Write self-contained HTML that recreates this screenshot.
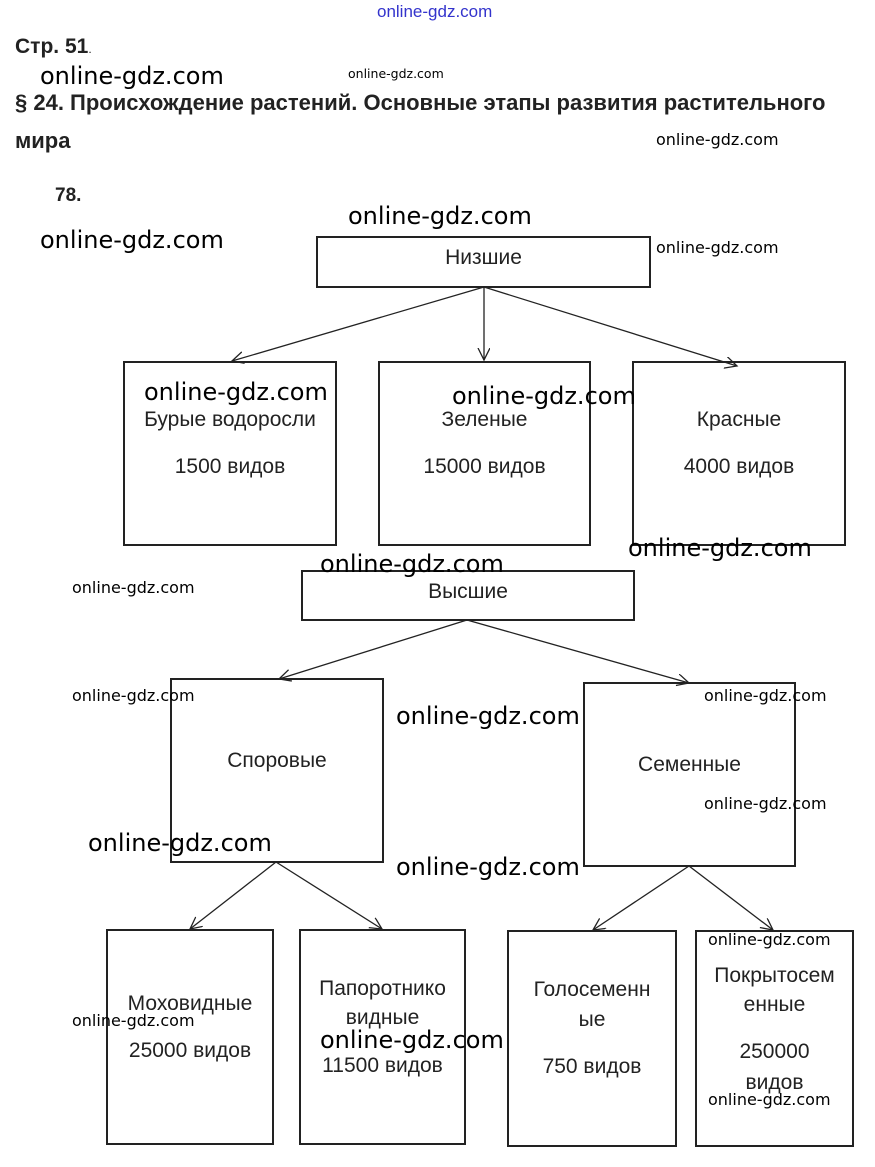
<!DOCTYPE html>
<html><head><meta charset="utf-8"><style>
body{margin:0;width:875px;height:1167px;background:#fff;position:relative;overflow:hidden;font-family:"Liberation Sans","DejaVu Sans",sans-serif;color:#222}
.t{position:absolute;white-space:nowrap;line-height:1}
.b{font-weight:bold;font-size:21px;color:#222}
.w{position:absolute;white-space:nowrap;line-height:1;color:#000;font-family:"DejaVu Sans","Liberation Sans",sans-serif}
.L{font-size:24px}.S{font-size:16px}.X{font-size:12.5px}
.c{position:absolute;text-align:center;font-size:21px;line-height:1;color:#222}
</style></head><body>
<div class="t" style="left:377px;top:3px;font-size:17px;color:#3333cc">online-gdz.com</div>
<div class="t b" style="left:15px;top:36px">Стр. 51<span style="font-weight:normal;font-size:12px">.</span></div>
<div class="w L" style="left:40px;top:64px">online-gdz.com</div>
<div class="w X" style="left:348px;top:68px">online-gdz.com</div>
<div class="t b" style="left:15px;top:92px;font-size:22px">§ 24. Происхождение растений. Основные этапы развития растительного</div>
<div class="t b" style="left:15px;top:130px;font-size:22px">мира</div>
<div class="w S" style="left:656px;top:132px">online-gdz.com</div>
<div class="t b" style="left:55px;top:186px;font-size:19px">78.</div>
<div class="w L" style="left:348px;top:204px">online-gdz.com</div>
<div class="w L" style="left:40px;top:228px">online-gdz.com</div>
<div class="w S" style="left:656px;top:240px">online-gdz.com</div>

<svg width="875" height="1167" style="position:absolute;left:0;top:0" fill="none" stroke="#222" stroke-width="2">
<defs><marker id="a" markerWidth="14" markerHeight="14" refX="12" refY="6" orient="auto" markerUnits="userSpaceOnUse"><path d="M0,0 L12,6 L0,12" stroke="#222" stroke-width="1.3" fill="none"/></marker></defs>
<rect x="317" y="237" width="333" height="50"/>
<rect x="124" y="362" width="212" height="183"/>
<rect x="379" y="362" width="211" height="183"/>
<rect x="633" y="362" width="212" height="183"/>
<rect x="302" y="571" width="332" height="49"/>
<rect x="171" y="679" width="212" height="183"/>
<rect x="584" y="683" width="211" height="183"/>
<rect x="107" y="930" width="166" height="214"/>
<rect x="300" y="930" width="165" height="214"/>
<rect x="508" y="931" width="168" height="215"/>
<rect x="696" y="931" width="157" height="215"/>
<g stroke-width="1.3" marker-end="url(#a)">
<line x1="484" y1="287" x2="232" y2="361"/>
<line x1="484" y1="287" x2="484" y2="360"/>
<line x1="484" y1="287" x2="737" y2="366"/>
<line x1="467" y1="620" x2="279" y2="679"/>
<line x1="467" y1="620" x2="689" y2="683"/>
<line x1="276" y1="862" x2="190" y2="929"/>
<line x1="276" y1="862" x2="382" y2="929"/>
<line x1="689" y1="866" x2="593" y2="930"/>
<line x1="689" y1="866" x2="773" y2="930"/>
</g></svg>

<div class="c" style="left:317px;width:333px;top:247px">Низшие</div>
<div class="c" style="left:124px;width:212px;top:409px">Бурые водоросли</div>
<div class="c" style="left:124px;width:212px;top:456px">1500 видов</div>
<div class="c" style="left:379px;width:211px;top:409px">Зеленые</div>
<div class="c" style="left:379px;width:211px;top:456px">15000 видов</div>
<div class="c" style="left:633px;width:212px;top:409px">Красные</div>
<div class="c" style="left:633px;width:212px;top:456px">4000 видов</div>
<div class="c" style="left:302px;width:332px;top:581px">Высшие</div>
<div class="c" style="left:171px;width:212px;top:750px">Споровые</div>
<div class="c" style="left:584px;width:211px;top:754px">Семенные</div>
<div class="c" style="left:107px;width:166px;top:993px">Моховидные</div>
<div class="c" style="left:107px;width:166px;top:1040px">25000 видов</div>
<div class="c" style="left:300px;width:165px;top:978px">Папоротнико</div>
<div class="c" style="left:300px;width:165px;top:1007px">видные</div>
<div class="c" style="left:300px;width:165px;top:1055px">11500 видов</div>
<div class="c" style="left:508px;width:168px;top:979px">Голосеменн</div>
<div class="c" style="left:508px;width:168px;top:1009px">ые</div>
<div class="c" style="left:508px;width:168px;top:1056px">750 видов</div>
<div class="c" style="left:696px;width:157px;top:965px">Покрытосем</div>
<div class="c" style="left:696px;width:157px;top:994px">енные</div>
<div class="c" style="left:696px;width:157px;top:1041px">250000</div>
<div class="c" style="left:696px;width:157px;top:1072px">видов</div>

<div class="w L" style="left:144px;top:380px">online-gdz.com</div>
<div class="w L" style="left:452px;top:384px">online-gdz.com</div>
<div class="w L" style="left:628px;top:536px">online-gdz.com</div>
<div class="w L" style="left:320px;top:552px">online-gdz.com</div>
<div class="w S" style="left:72px;top:580px">online-gdz.com</div>
<div class="w S" style="left:72px;top:688px">online-gdz.com</div>
<div class="w L" style="left:396px;top:704px">online-gdz.com</div>
<div class="w S" style="left:704px;top:688px">online-gdz.com</div>
<div class="w S" style="left:704px;top:796px">online-gdz.com</div>
<div class="w L" style="left:88px;top:831px">online-gdz.com</div>
<div class="w L" style="left:396px;top:855px">online-gdz.com</div>
<div class="w S" style="left:708px;top:932px">online-gdz.com</div>
<div class="w S" style="left:72px;top:1013px">online-gdz.com</div>
<div class="w L" style="left:320px;top:1028px">online-gdz.com</div>
<div class="w S" style="left:708px;top:1092px">online-gdz.com</div>
</body></html>
